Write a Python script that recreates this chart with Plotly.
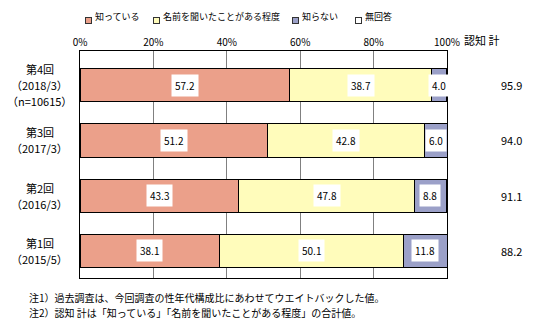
import plotly.graph_objects as go

categories = ["第1回<br>（2015/5）", "第2回<br>（2016/3）", "第3回<br>（2017/3）", "第4回<br>（2018/3）<br>（n=10615）"]
series_names = ["知っている", "名前を聞いたことがある程度", "知らない", "無回答"]
know = [38.1, 43.3, 51.2, 57.2]
heard = [50.1, 47.8, 42.8, 38.7]
unknown = [11.8, 8.8, 6.0, 4.0]
no_answer = [0.0, 0.1, 0.0, 0.1]
totals = [88.2, 91.1, 94.0, 95.9]
x_ticks = [0, 20, 40, 60, 80, 100]

colors = ["#EBA08A", "#FFFCBB", "#9BA0C8", "#FFFFFF"]
series = [know, heard, unknown, no_answer]
FONT = "Noto Sans CJK JP"
ypos = list(range(len(categories)))

fig = go.Figure()
for name, vals, col in zip(series_names, series, colors):
    fig.add_trace(go.Bar(
        y=ypos, x=vals, name=name, orientation="h",
        marker=dict(color=col, line=dict(color="black", width=1)),
        width=0.6, showlegend=False,
    ))

annotations = []
for i in ypos:
    base = 0
    for vals in series[:3]:
        v = vals[i]
        annotations.append(dict(
            x=base + v / 2, y=i, xref="x", yref="y", text=f"{v:.1f}",
            xanchor="center", showarrow=False, bgcolor="white", borderpad=3,
            font=dict(size=10, color="black", family=FONT)))
        base += v
    annotations.append(dict(
        x=1.177, y=i, xref="paper", yref="y", text=f"{totals[i]:.1f}",
        xanchor="center", showarrow=False,
        font=dict(size=11, color="black", family=FONT)))
    # category labels, one line each, centered
    lines = categories[i].split("<br>")
    n = len(lines)
    for k, ln in enumerate(lines):
        annotations.append(dict(
            x=-0.109, y=i, xref="paper", yref="y", text=ln,
            xanchor="center", yanchor="middle", yshift=((n - 1) / 2 - k) * 16,
            showarrow=False, font=dict(size=11, color="black", family=FONT)))

annotations.append(dict(x=1.041, y=1.048, xref="paper", yref="paper", text="認知 計",
                        xanchor="left", yanchor="middle", showarrow=False,
                        font=dict(size=11, color="black", family=FONT)))

# legend (keys + labels)
leg_key_x = [0.023, 0.208, 0.587, 0.759]
for name, col, kx in zip(series_names, colors, leg_key_x):
    annotations.append(dict(x=kx, y=1.15, xref="paper", yref="paper", text=" ",
                            xanchor="center", width=5, height=5, bgcolor=col,
                            bordercolor="#333333", borderwidth=1, borderpad=0,
                            showarrow=False, font=dict(size=4)))
    annotations.append(dict(x=kx + 0.012, y=1.15, xref="paper", yref="paper", text=name,
                            xanchor="left", yanchor="middle", showarrow=False,
                            font=dict(size=9, color="black", family=FONT)))

notes = ["注1）過去調査は、今回調査の性年代構成比にあわせてウエイトバックした値。",
         "注2）認知 計は「知っている」「名前を聞いたことがある程度」の合計値。"]
for j, t in enumerate(notes):
    annotations.append(dict(x=-0.145, y=-0.088 - j * 0.066, xref="paper", yref="paper",
                            text=t, xanchor="left", yanchor="middle", showarrow=False,
                            font=dict(size=10, color="black", family=FONT)))

fig.update_layout(
    width=556, height=325,
    margin=dict(l=80, r=109, t=51, b=47),
    barmode="stack",
    plot_bgcolor="white", paper_bgcolor="white",
    font=dict(family=FONT, size=11, color="black"),
    showlegend=False,
    annotations=annotations,
)
fig.update_xaxes(side="top", range=[0, 100], tickvals=x_ticks,
                 ticktext=[f"{t}%" for t in x_ticks], showgrid=True,
                 gridcolor="#808080", gridwidth=1, showline=True, linecolor="black",
                 linewidth=1, mirror=True, ticks="", zeroline=False,
                 tickfont=dict(size=10), automargin=False)
fig.update_yaxes(range=[-0.49, 3.62], tickvals=ypos, showticklabels=False,
                 showgrid=False, showline=True, linecolor="black", linewidth=1,
                 mirror=True, ticks="", zeroline=False, automargin=False)

fig.write_html("out.html")
